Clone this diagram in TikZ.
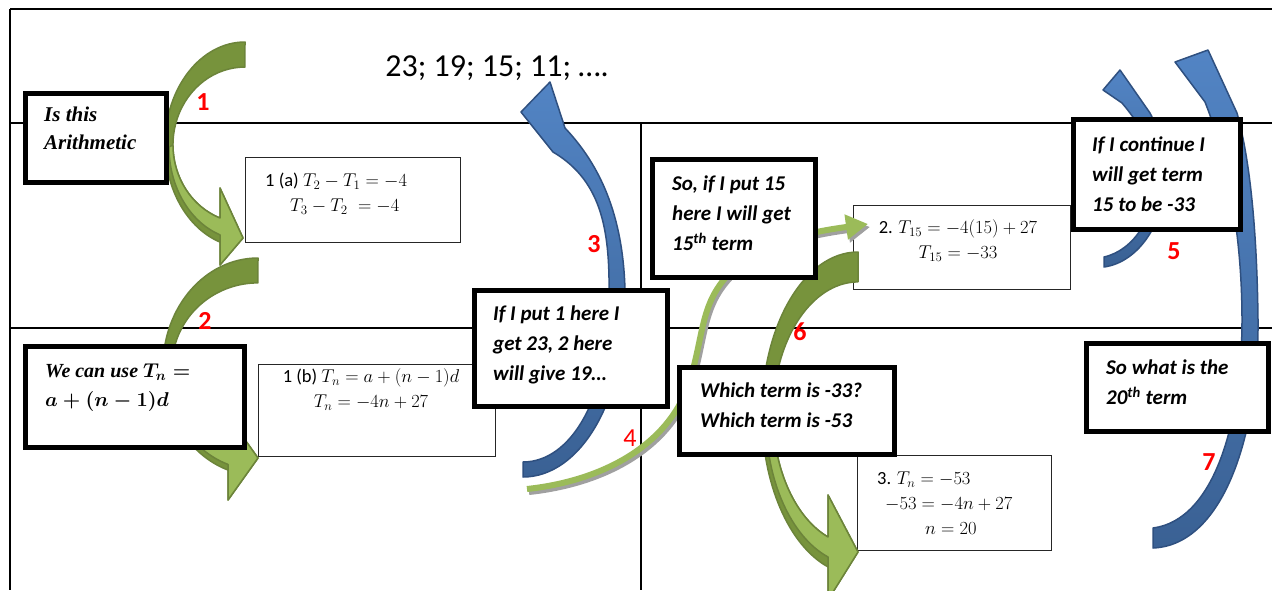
\RequirePackage{fix-cm}
\documentclass[tikz,border=0pt]{standalone}
\usepackage{amsmath}
\usepackage{fontspec}
\newfontfamily\carlito{Carlito}
\newfontfamily\timesfont{Liberation Serif}
\usepackage{xcolor}
\definecolor{olivedark}{RGB}{119,147,60}
\definecolor{olivelight}{RGB}{155,187,89}
\definecolor{oliveedge}{RGB}{108,132,58}
\definecolor{steellight}{RGB}{82,132,196}
\definecolor{steeldark}{RGB}{58,97,148}
\definecolor{steeledge}{RGB}{47,80,128}
\definecolor{stepred}{RGB}{255,0,0}
\definecolor{shadowgray}{RGB}{160,160,160}
\usetikzlibrary{arrows.meta, positioning}

\tikzset{
  gridline/.style={line width=1.6pt, black},
  askbox/.style={draw=black, line width=5pt, fill=white, inner sep=0pt, anchor=north west},
  calcbox/.style={draw=black!85, line width=1pt, fill=white, inner sep=0pt, anchor=north west},
  asktext/.style={font=\carlito\bfseries\itshape\fontsize{21}{30}\selectfont, align=left, inner sep=0pt, anchor=north west},
  calctext/.style={font=\carlito\fontsize{18.5}{25}\selectfont, inner sep=0pt},
  stepnum/.style={font=\carlito\bfseries\fontsize{26}{26}\selectfont, text=stepred, inner sep=0pt},
  greenback/.style={fill=olivedark, draw=oliveedge, line width=1.5pt, line join=round},
  greenfront/.style={fill=olivelight, draw=oliveedge, line width=1.5pt, line join=round},
  bluearrow/.style={top color=steellight, bottom color=steeldark, draw=steeledge, line width=1.5pt, line join=round},
  thingreen/.style={draw=olivelight, line width=6pt, -{Triangle[length=22pt, width=24pt]}},
  thinshadow/.style={draw=shadowgray, line width=6pt, -{Triangle[length=22pt, width=24pt]}},
}

\begin{document}
\begin{tikzpicture}[x=1pt, y=-1pt]
  \clip (0,0) rectangle (1272,590);
  \fill[white] (0,0) rectangle (1272,590);

  % --- worksheet grid ---
  \draw[gridline] (10,9) -- (1272,9);
  \draw[gridline] (10,9) -- (10,590);
  \draw[gridline] (10,123) -- (1272,123);
  \draw[gridline] (10,328) -- (1272,328);
  \draw[gridline] (641,123) -- (641,590);

  % --- working boxes ---
  \node[calcbox, minimum width=215pt, minimum height=85pt] (work1a) at (245,157) {};
  \node[calctext, align=left, anchor=north west] (work1atxt) at (265,172.5)
    {1 (a) $T_2-T_1=-4$\\\hspace*{25pt}$T_3-T_2\;=-4$};
  \node[calcbox, minimum width=237pt, minimum height=92pt] (work1b) at (258,364) {};
  \node[calctext, align=center, anchor=north] (work1btxt) at (371,368.5)
    {1 (b) $T_n=a+(n-1)d$\\$T_n=-4n+27$};
  \node[calcbox, minimum width=217pt, minimum height=84pt] (work2) at (853,205) {};
  \node[calctext, align=center, anchor=north] (work2txt) at (958,219.5)
    {2. $T_{15}=-4(15)+27$\\$T_{15}=-33$};
  \node[calcbox, minimum width=194pt, minimum height=95pt] (work3) at (857,455) {};
  \node[calctext, align=left, anchor=north west] (work3txt) at (877,471.7)
    {3. $T_n=-53$\\\hspace*{8pt}$-53=-4n+27$\\\hspace*{48pt}$n=20$};

  % --- green curved arrows (back face, then front face) ---
  % arrow 1
  \draw[greenback] (245,42)
    arc[start angle=270, end angle=108.2, x radius=80, y radius=102.6]
    -- (220,265) -- (243,238) -- (220,188) -- (220,218)
    arc[start angle=110.3, end angle=270, x radius=72, y radius=77.9] -- cycle;
  \draw[greenfront] (220,234.8) -- (220,265) -- (243,238) -- (220,188) -- (220,218)
    arc[start angle=110.3, end angle=180, x radius=72, y radius=77.9]
    -- (169,147) arc[start angle=180, end angle=109.2, x radius=76, y radius=93] -- cycle;
  % arrow 2
  \draw[greenback] (258,258)
    arc[start angle=270, end angle=108.4, x radius=95, y radius=108.8]
    -- (228,500) -- (258,458) -- (228,416) -- (228,446)
    arc[start angle=110.4, end angle=270, x radius=86, y radius=84.2] -- cycle;
  \draw[greenfront] (228,464.4) -- (228,500) -- (258,458) -- (228,416) -- (228,446)
    arc[start angle=110.4, end angle=180, x radius=86, y radius=84.2]
    -- (167,370) arc[start angle=180, end angle=109.2, x radius=91, y radius=100] -- cycle;
  % arrow 6
  \draw[greenback] (858,252)
    arc[start angle=270, end angle=108.2, x radius=96, y radius=161.5]
    -- (828,600) -- (858,552) -- (828,495) -- (828,537)
    arc[start angle=110.7, end angle=270, x radius=85, y radius=131.8] -- cycle;
  \draw[greenfront] (828,557) -- (828,600) -- (858,552) -- (828,495) -- (828,537)
    arc[start angle=110.7, end angle=180, x radius=85, y radius=131.8]
    -- (766,418) arc[start angle=180, end angle=109, x radius=92, y radius=147] -- cycle;

  % --- blue curved arrows ---
  % arrow 3
  \draw[bluearrow] (523,477) .. controls (580,477) and (628,400) .. (625,290)
    .. controls (623,215) and (600,165) .. (565,128)
    -- (550,82) -- (521,112) -- (553,152)
    .. controls (604,182) and (610,235) .. (609,300)
    .. controls (609,400) and (570,462) .. (523,462) -- cycle;
  % arrow 5
  \draw[bluearrow] (1104,267) .. controls (1140,262) and (1165,220) .. (1165,180)
    .. controls (1165,150) and (1158,128) .. (1150,113)
    -- (1120,70) -- (1103,90) -- (1122,103)
    .. controls (1145,130) and (1155,155) .. (1155,180)
    .. controls (1155,215) and (1135,250) .. (1104,257) -- cycle;
  % arrow 7
  \draw[bluearrow] (1153,548) .. controls (1225,545) and (1259,430) .. (1258,320)
    .. controls (1257,230) and (1250,160) .. (1237,113)
    -- (1208,50) -- (1175,62) -- (1205,102)
    .. controls (1232,170) and (1242,250) .. (1242,320)
    .. controls (1242,420) and (1215,520) .. (1153,528) -- cycle;

  % --- thin arrow 4 with its shadow ---
  \draw[thinshadow, xshift=2pt, yshift=-3pt] (527,489) .. controls (610,480) and (672,440) .. (690,380)
    .. controls (705,330) and (700,300) .. (735,268) .. controls (770,240) and (810,232) .. (868,224);
  \draw[thingreen] (527,489) .. controls (610,480) and (672,440) .. (690,380)
    .. controls (705,330) and (700,300) .. (735,268) .. controls (770,240) and (810,232) .. (868,224);

  % --- question boxes ---
  \node[askbox, minimum width=141pt, minimum height=89pt] (arith) at (22.5,90.5) {};
  \node[font=\timesfont\bfseries\itshape\fontsize{21}{28}\selectfont, align=left,
        inner sep=0pt, anchor=north west] (arithtxt) at (44,106.5) {Is this\\Arithmetic};
  \node[askbox, minimum width=219pt, minimum height=101pt] (formula) at (22.5,343.5) {};
  \node[font=\timesfont\bfseries\itshape\fontsize{20}{29}\selectfont, align=left,
        inner sep=0pt, anchor=north west] (formulatxt) at (45,364)
    {We can use $\boldsymbol{T_n=}$\\$\boldsymbol{a+(n-1)d}$};
  \node[askbox, minimum width=193pt, minimum height=116pt] (putone) at (471.5,287.5) {};
  \node[asktext] (putonetxt) at (493,306) {If I put 1 here I\\get 23, 2 here\\will give 19…};
  \node[askbox, minimum width=163pt, minimum height=118pt] (putfifteen) at (649.5,156.5) {};
  \node[asktext] (putfifteentxt) at (672,176) {So, if I put 15\\here I will get\\15\textsuperscript{th} term};
  \node[askbox, minimum width=215pt, minimum height=87pt] (which) at (676.5,364.5) {};
  \node[asktext] (whichtxt) at (700,383) {Which term is -33?\\Which term is -53};
  \node[askbox, minimum width=167pt, minimum height=110pt] (continue) at (1070.5,116.5) {};
  \node[asktext] (continuetxt) at (1092,137) {If I continue I\\will get term\\15 to be -33};
  \node[askbox, minimum width=182pt, minimum height=88pt] (twentieth) at (1083.5,340.5) {};
  \node[asktext] (twentiethtxt) at (1106,360) {So what is the\\20\textsuperscript{th} term};

  % --- sequence and step numbers ---
  \node[font=\carlito\fontsize{32}{32}\selectfont, inner sep=0pt] (sequence) at (497,68) {23; 19; 15; 11; ….};
  \node[stepnum] (step1) at (203,102) {1};
  \node[stepnum] (step2) at (205,321) {2};
  \node[stepnum] (step3) at (594,244) {3};
  \node[stepnum, font=\carlito\fontsize{26}{26}\selectfont] (step4) at (630,438) {4};
  \node[stepnum] (step5) at (1174,251) {5};
  \node[stepnum] (step6) at (800,332) {6};
  \node[stepnum] (step7) at (1209,462) {7};
\end{tikzpicture}
\end{document}
